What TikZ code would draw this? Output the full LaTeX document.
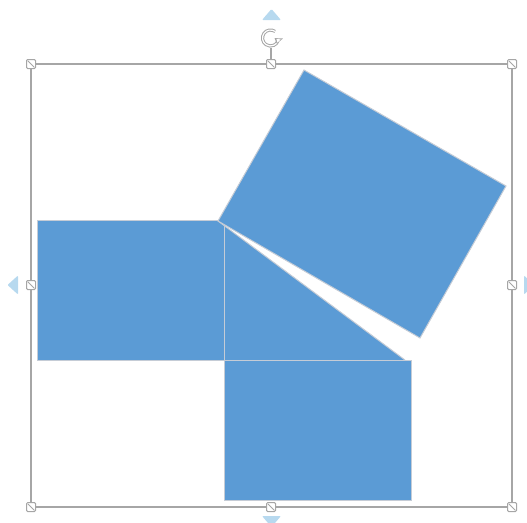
\documentclass[tikz,border=0pt]{standalone}
\usetikzlibrary{arrows.meta}
\definecolor{shapeblue}{HTML}{5B9BD5}
\definecolor{framegray}{HTML}{A6A6A6}
\definecolor{outlinegray}{HTML}{C5CCD6}
\definecolor{arrowblue}{HTML}{B7D9EF}
\begin{document}
\begin{tikzpicture}[x=1pt,y=-1pt,
  blueshape/.style={fill=shapeblue, draw=outlinegray, line width=1pt, line join=miter},
  frameline/.style={draw=framegray, line width=1.3pt},
  handle/.style={draw=framegray, fill=white, line width=1pt, minimum size=9pt, inner sep=0pt,
    rounded corners=1.2pt,
    path picture={\draw[framegray, line width=0.9pt, shorten >=1.8pt, shorten <=1.8pt]
      (path picture bounding box.north west) -- (path picture bounding box.south east);}},
  sidearrow/.style={fill=arrowblue, draw=none, rounded corners=1pt}]
\useasboundingbox (0,0) rectangle (527,522);

% corner points of the shapes
\coordinate (lrA) at (37,220);  \coordinate (lrB) at (224,360);
\coordinate (sqA) at (224,360); \coordinate (sqB) at (411,500);
\coordinate (rA) at (218,221); \coordinate (rB) at (304,70);
\coordinate (rC) at (506,186); \coordinate (rD) at (420,338);
\coordinate (tR) at (405,360);

% shapes
\draw[blueshape] (lrA) rectangle (lrB);
\draw[blueshape] (sqA) rectangle (sqB);
\fill[shapeblue] (rA) -- (tR) -- (224,360) -- (224,220) -- cycle;
\draw[outlinegray, line width=1pt] (224,225) -- (224,360) -- (tR);
\draw[outlinegray, line width=1pt] (rA) -- (tR);
\draw[blueshape] (rA) -- (rB) -- (rC) -- (rD) -- cycle;

% selection frame
\coordinate (fNW) at (31,64);  \coordinate (fN) at (271,64);  \coordinate (fNE) at (512,64);
\coordinate (fW) at (31,285);  \coordinate (fE) at (512,285);
\coordinate (fSW) at (31,507); \coordinate (fS) at (271,507); \coordinate (fSE) at (512,507);
\draw[frameline] (fNW) rectangle (fSE);

% rotation handle
\coordinate (rot) at (270.5,38);
\draw[frameline] (fN) -- (271,48);
\begin{scope}[shift={(rot)}, y=1pt]
  \draw[framegray, line width=3.2pt] (55:8) arc (55:335:8);
  \draw[white, line width=1.2pt] (55:8) arc (55:335:8);
  \fill[framegray] (-2:4) -- (-2:12.5) -- (-42:8.5) -- cycle;
  \fill[white] (-8:6) -- (-8:10.3) -- (-34:8.4) -- cycle;
\end{scope}

% handles
\foreach \p in {fNW,fN,fNE,fW,fE,fSW,fS,fSE}
  \node[handle] (h\p) at (\p) {};

% side arrows
\fill[sidearrow] (262,20) -- (271.5,9) -- (281,20) -- cycle;
\fill[sidearrow] (18,275.5) -- (7.5,285) -- (18,294.5) -- cycle;
\fill[sidearrow] (524,275.5) -- (534,285) -- (524,294.5) -- cycle;
\fill[sidearrow] (262,516) -- (271.5,527) -- (281,516) -- cycle;
\end{tikzpicture}
\end{document}
